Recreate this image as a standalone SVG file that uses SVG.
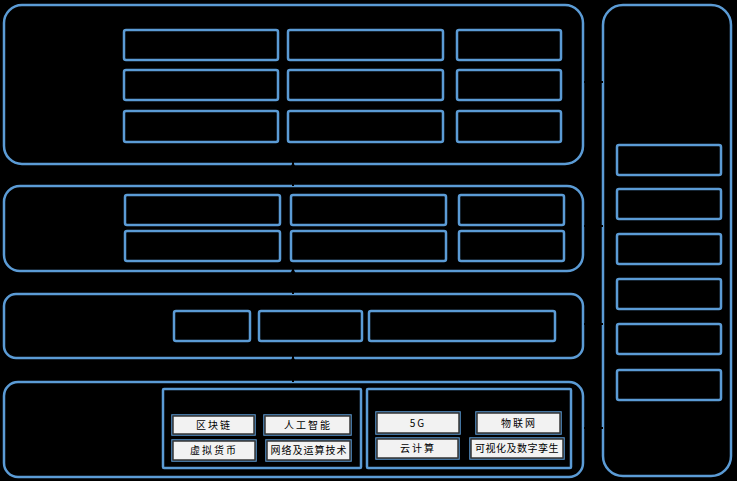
<svg xmlns="http://www.w3.org/2000/svg" width="737" height="481" viewBox="0 0 737 481">
<style>
.panel{fill:none;stroke:#5b9bd5;stroke-width:2.5}
.box{fill:none;stroke:#5b9bd5;stroke-width:2.5}
.sub{fill:none;stroke:#5b9bd5;stroke-width:2.5}
.tb{fill:#f2f2f2;stroke:#333;stroke-width:1.5}
.tbo{fill:none;stroke:#5b9bd5;stroke-width:1.5}
.t{font-family:"Noto Sans CJK SC","Noto Sans",sans-serif;font-size:10px;fill:#000;text-anchor:middle;letter-spacing:2px}
.c{stroke:#000;stroke-width:2;fill:none}
</style>
<defs>
<marker id="ah" viewBox="0 0 10 10" refX="10" refY="5" markerWidth="5" markerHeight="5" orient="auto">
<path d="M0,0L10,5L0,10z" fill="#000"/>
</marker>
</defs>
<rect width="737" height="481" fill="#000"/>
<g id="panel1">
<rect class="panel" x="4" y="5" width="579" height="159" rx="18"/>
<rect class="box" x="124" y="30" width="154" height="30" rx="2"/>
<rect class="box" x="288" y="30" width="155" height="30" rx="2"/>
<rect class="box" x="457" y="30" width="104" height="30" rx="2"/>
<rect class="box" x="124" y="70" width="154" height="30" rx="2"/>
<rect class="box" x="288" y="70" width="155" height="30" rx="2"/>
<rect class="box" x="457" y="70" width="104" height="30" rx="2"/>
<rect class="box" x="124" y="111" width="154" height="31" rx="2"/>
<rect class="box" x="288" y="111" width="155" height="31" rx="2"/>
<rect class="box" x="457" y="111" width="104" height="31" rx="2"/>
</g>
<g id="panel2">
<rect class="panel" x="4" y="186" width="579" height="85" rx="16"/>
<rect class="box" x="125" y="195" width="155" height="30" rx="2"/>
<rect class="box" x="291" y="195" width="155" height="30" rx="2"/>
<rect class="box" x="459" y="195" width="105" height="30" rx="2"/>
<rect class="box" x="125" y="231" width="155" height="30" rx="2"/>
<rect class="box" x="291" y="231" width="155" height="30" rx="2"/>
<rect class="box" x="459" y="231" width="105" height="30" rx="2"/>
</g>
<g id="panel3">
<rect class="panel" x="4" y="294" width="579" height="64" rx="12"/>
<rect class="box" x="174" y="311" width="76" height="30" rx="2"/>
<rect class="box" x="259" y="311" width="103" height="30" rx="2"/>
<rect class="box" x="369" y="311" width="186" height="30" rx="2"/>
</g>
<g id="panel4">
<rect class="panel" x="4" y="382" width="579" height="95" rx="14"/>
<rect class="sub" x="163" y="389" width="198" height="79" rx="1"/>
<rect class="sub" x="367" y="389" width="204" height="79" rx="1"/>
<g id="n-blockchain"><rect class="tbo" x="172" y="415" width="83" height="20"/><rect class="tb" x="173" y="416" width="81" height="18"/><text class="t" x="214" y="429">区块链</text></g>
<g id="n-ai"><rect class="tbo" x="264" y="415" width="87" height="20"/><rect class="tb" x="265" y="416" width="85" height="18"/><text class="t" x="308" y="429">人工智能</text></g>
<g id="n-vc"><rect class="tbo" x="172" y="440" width="84" height="21"/><rect class="tb" x="173" y="441" width="82" height="19"/><text class="t" x="214" y="454">虚拟货币</text></g>
<g id="n-net"><rect class="tbo" x="266" y="440" width="85" height="21"/><rect class="tb" x="267" y="441" width="83" height="19"/><text class="t" x="309" y="454" style="letter-spacing:1px">网络及运算技术</text></g>
<g id="n-5g"><rect class="tbo" x="376" y="412" width="84" height="22"/><rect class="tb" x="377" y="413" width="82" height="20"/><text class="t" x="418" y="427">5G</text></g>
<g id="n-iot"><rect class="tbo" x="476" y="412" width="85" height="22"/><rect class="tb" x="477" y="413" width="83" height="20"/><text class="t" x="519" y="427">物联网</text></g>
<g id="n-cloud"><rect class="tbo" x="376" y="438" width="83" height="21"/><rect class="tb" x="377" y="439" width="81" height="19"/><text class="t" x="418" y="452">云计算</text></g>
<g id="n-vis"><rect class="tbo" x="470" y="438" width="94" height="21"/><rect class="tb" x="471" y="439" width="92" height="19"/><text class="t" x="517" y="452" style="letter-spacing:0.5px">可视化及数字孪生</text></g>
</g>
<g id="panel-right">
<rect class="panel" x="603" y="5" width="128" height="471" rx="20"/>
<rect class="box" x="617" y="145" width="104" height="30" rx="2"/>
<rect class="box" x="617" y="189" width="104" height="30" rx="2"/>
<rect class="box" x="617" y="234" width="104" height="30" rx="2"/>
<rect class="box" x="617" y="279" width="104" height="30" rx="2"/>
<rect class="box" x="617" y="324" width="104" height="30" rx="2"/>
<rect class="box" x="617" y="370" width="104" height="30" rx="2"/>
</g>
<g id="connectors">
<line class="c" x1="293" y1="186" x2="293" y2="162" marker-end="url(#ah)"/>
<line class="c" x1="293" y1="294" x2="293" y2="268" marker-end="url(#ah)"/>
<line class="c" x1="293" y1="382" x2="293" y2="356" marker-end="url(#ah)"/>
<line class="c" x1="603" y1="82" x2="584" y2="82" marker-end="url(#ah)"/>
<line class="c" x1="603" y1="226" x2="584" y2="226" marker-end="url(#ah)"/>
<line class="c" x1="603" y1="324" x2="584" y2="324" marker-end="url(#ah)"/>
<line class="c" x1="603" y1="428" x2="584" y2="428" marker-end="url(#ah)"/>
</g>
</svg>
